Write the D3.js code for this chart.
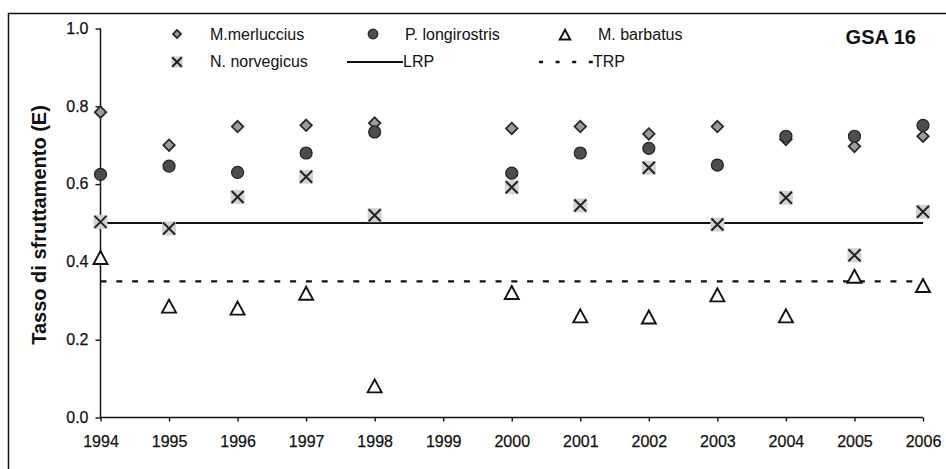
<!DOCTYPE html>
<html>
<head>
<meta charset="utf-8">
<script src="https://cdn.jsdelivr.net/npm/d3@7"></script>
<style>
  body { margin: 0; background: #fff; }
  svg { display: block; font-family: Arial, "Liberation Sans", sans-serif; }
</style>
</head>
<body>
<div id="chart"></div>
<script>
// years on the x axis (1999 has no data)
const years = [1994, 1995, 1996, 1997, 1998, 2000, 2001, 2002, 2003, 2004, 2005, 2006];
const yearTicks = d3.range(1994, 2007);
const yTicks = [0.0, 0.2, 0.4, 0.6, 0.8, 1.0];

// exploitation rate E by species
const merluccius   = [0.785, 0.70, 0.748, 0.751, 0.757, 0.743, 0.748, 0.729, 0.748, 0.715, 0.697, 0.723];
const longirostris = [0.625, 0.646, 0.630, 0.680, 0.734, 0.628, 0.680, 0.692, 0.649, 0.723, 0.723, 0.751];
const norvegicus   = [0.503, 0.486, 0.567, 0.619, 0.520, 0.592, 0.545, 0.642, 0.496, 0.565, 0.417, 0.529];
const barbatus     = [0.410, 0.285, 0.280, 0.318, 0.080, 0.320, 0.260, 0.257, 0.314, 0.260, 0.362, 0.338];

// reference points
const LRP = 0.5;
const TRP = 0.35;

const width = 946, height = 469;
const margin = {top: 28.5, right: 23, bottom: 51.5, left: 100.5};

const svg = d3.select("#chart")
  .append("svg")
    .attr("width", width)
    .attr("height", height);

// outer frame (cropped at right and bottom)
svg.append("rect")
  .attr("x", 8.5).attr("y", 13.5)
  .attr("width", width).attr("height", height)
  .attr("fill", "none")
  .attr("stroke", "#111")
  .attr("stroke-width", 1.5);

const x = d3.scaleLinear()
  .domain([1994, 2006])
  .range([margin.left, width - margin.right]);

const y = d3.scaleLinear()
  .domain([0, 1])
  .range([height - margin.bottom, margin.top]);

// x axis
const xAxis = svg.append("g")
  .attr("transform", "translate(0," + y(0) + ")")
  .call(d3.axisBottom(x).tickValues(yearTicks).tickFormat(d3.format("d")).tickSize(4).tickSizeOuter(0));

// y axis
const yAxis = svg.append("g")
  .attr("transform", "translate(" + x(1994) + ",0)")
  .call(d3.axisLeft(y).tickValues(yTicks).tickFormat(d3.format(".1f")).tickSize(5).tickSizeOuter(0));

[xAxis, yAxis].forEach(function(g) {
  g.select(".domain").remove();
  g.selectAll(".tick line")
    .style("stroke", "#111")
    .style("stroke-width", "1.4px");
  g.selectAll(".tick text")
    .attr("fill", "#111")
    .attr("font-size", 16)
    .style("stroke", "#111")
    .style("stroke-width", "0.25px");
});
xAxis.selectAll(".tick text").attr("y", 18);
yAxis.selectAll(".tick text").attr("x", -12).attr("dy", "0.3em");

// axis lines drawn explicitly
svg.append("line")
  .attr("x1", x(1994)).attr("x2", x(2006))
  .attr("y1", y(0)).attr("y2", y(0))
  .style("stroke", "#111").style("stroke-width", "1.5px");
svg.append("line")
  .attr("x1", x(1994)).attr("x2", x(1994))
  .attr("y1", y(0)).attr("y2", y(1))
  .style("stroke", "#111").style("stroke-width", "1.5px");

// y axis title
svg.append("text")
  .attr("transform", "translate(46,225) rotate(-90)")
  .attr("text-anchor", "middle")
  .attr("font-size", 20)
  .attr("font-weight", "bold")
  .attr("fill", "#111")
  .text("Tasso di sfruttamento (E)");

// reference lines
svg.append("line")
  .attr("x1", x(1994)).attr("x2", x(2006))
  .attr("y1", y(LRP)).attr("y2", y(LRP))
  .attr("stroke", "#111").attr("stroke-width", 2);

svg.append("line")
  .attr("x1", x(1994)).attr("x2", x(2006))
  .attr("y1", y(TRP)).attr("y2", y(TRP))
  .attr("stroke", "#111").attr("stroke-width", 2.4)
  .attr("stroke-dasharray", "6,9.8");

// marker drawers (s = scale factor)
function drawDiamond(g, cx, cy, s) {
  g.append("path")
    .attr("d", d3.symbol().type(d3.symbolDiamond2).size(84 * s * s)())
    .attr("transform", "translate(" + cx + "," + cy + ")")
    .attr("fill", "#9c9c9c")
    .attr("stroke", "#2a2a2a")
    .attr("stroke-width", 1.8);
}
function drawCircle(g, cx, cy, s) {
  g.append("circle")
    .attr("cx", cx).attr("cy", cy).attr("r", 6 * s)
    .attr("fill", "#4d4d4d")
    .attr("stroke", "#222")
    .attr("stroke-width", 1.2);
}
function drawCross(g, cx, cy, s) {
  const h = 7 * s, a = 6 * s;
  g.append("rect")
    .attr("x", cx - h).attr("y", cy - h)
    .attr("width", 2 * h).attr("height", 2 * h)
    .attr("fill", "#d2d2d2");
  g.append("path")
    .attr("d", "M" + (cx - a) + "," + (cy - a) + "L" + (cx + a) + "," + (cy + a) +
               "M" + (cx + a) + "," + (cy - a) + "L" + (cx - a) + "," + (cy + a))
    .attr("stroke", "#222")
    .attr("stroke-width", 2);
}
function drawTriangle(g, cx, cy, s) {
  const w = 7 * s, t = 7 * s, b = 6 * s;
  g.append("path")
    .attr("d", "M" + cx + "," + (cy - t) + "L" + (cx + w) + "," + (cy + b) + "L" + (cx - w) + "," + (cy + b) + "Z")
    .attr("fill", "#fff")
    .attr("stroke", "#111")
    .attr("stroke-width", 1.9);
}

const marks = svg.append("g");
// draw order: barbatus, norvegicus, merluccius, longirostris
years.forEach(function(yr, i) { drawTriangle(marks, x(yr), y(barbatus[i]), 1); });
years.forEach(function(yr, i) { drawCross(marks, x(yr), y(norvegicus[i]), 1); });
years.forEach(function(yr, i) { drawDiamond(marks, x(yr), y(merluccius[i]), 1); });
years.forEach(function(yr, i) { drawCircle(marks, x(yr), y(longirostris[i]), 1); });

// legend
const legend = svg.append("g").attr("font-size", 16).attr("fill", "#111");
drawDiamond(legend, 177, 34, 0.7);
legend.append("text").attr("x", 210).attr("y", 40).text("M.merluccius");
drawCircle(legend, 373, 34, 0.8);
legend.append("text").attr("x", 405).attr("y", 40).text("P. longirostris");
drawTriangle(legend, 565, 35, 0.75);
legend.append("text").attr("x", 598).attr("y", 40).text("M. barbatus");

drawCross(legend, 177, 62, 0.8);
legend.append("text").attr("x", 210).attr("y", 67).text("N. norvegicus");
legend.append("line")
  .attr("x1", 347).attr("x2", 403).attr("y1", 62).attr("y2", 62)
  .attr("stroke", "#111").attr("stroke-width", 2);
legend.append("text").attr("x", 403).attr("y", 67).text("LRP");
legend.append("line")
  .attr("x1", 539).attr("x2", 593).attr("y1", 62).attr("y2", 62)
  .attr("stroke", "#111").attr("stroke-width", 2.4)
  .attr("stroke-dasharray", "4,12.6");
legend.append("text").attr("x", 593).attr("y", 67).text("TRP");

svg.append("text")
  .attr("x", 916).attr("y", 44)
  .attr("text-anchor", "end")
  .attr("font-size", 20)
  .attr("font-weight", "bold")
  .attr("fill", "#111")
  .text("GSA 16");
</script>
</body>
</html>
